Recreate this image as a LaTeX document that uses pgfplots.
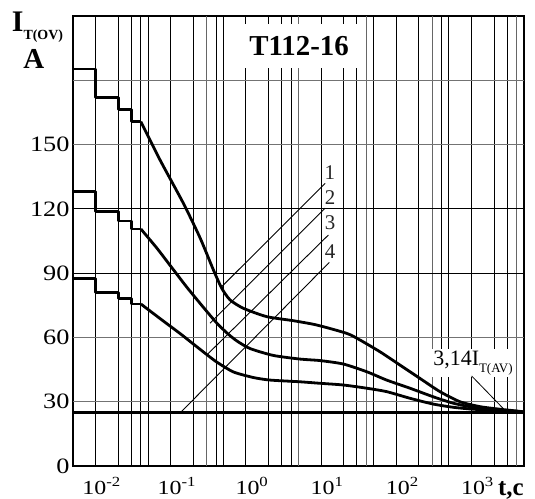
\documentclass[border=0pt]{standalone}
\usepackage{fontspec}
\setmainfont{Liberation Serif}
\newfontfamily\tickfont[FakeStretch=1.2]{Liberation Serif}
\usepackage{pgfplots}
\pgfplotsset{compat=1.18}

\begin{document}
\begin{tikzpicture}
\begin{axis}[
  xmode=log, log basis x=10,
  xmin=0.005, xmax=5000, ymin=0, ymax=210,
  width=451bp, height=450bp, scale only axis,
  axis line style={line width=1.8bp},
  clip=false,
  xtick={0.01,0.1,1,10,100,1000},
  xticklabels={10\textsuperscript{-2},10\textsuperscript{-1},10\textsuperscript{0},10\textsuperscript{1},10\textsuperscript{2},10\textsuperscript{3}},
  minor xtick={},
  ytick={0,30,60,90,120,150},
  yticklabels={0,30,60,90,120,150},
  xmajorgrids=false, xminorgrids=false, ymajorgrids=false, yminorgrids=false,
  major tick length=0pt, minor tick length=0pt,
  xticklabel style={font={\tickfont\fontsize{20}{20}\selectfont}, anchor=north, xshift=6bp, yshift=-8bp},
  yticklabel style={font={\tickfont\fontsize{22}{22}\selectfont}},
]
% vertical grid lines
\pgfplotsinvokeforeach{0.01,0.02,0.04,0.05,0.1,0.2,0.4,0.5,1,2,3,4,10,20,30,50,100,200,400,500,1000,2000,3000}{
  \draw[black, line width=1bp] (axis cs:#1,0) -- (axis cs:#1,210);
}
\pgfplotsinvokeforeach{0.3,5,40,300,4000}{
  \draw[black!60, line width=1bp] (axis cs:#1,0) -- (axis cs:#1,210);
}
\draw[black, line width=1.7bp] (axis cs:0.03,0) -- (axis cs:0.03,210);
% horizontal grid lines
\draw[black!55, line width=1bp] (axis cs:0.005,30) -- (axis cs:5000,30);
\draw[black!55, line width=1bp] (axis cs:0.005,60) -- (axis cs:5000,60);
\draw[black, line width=1bp] (axis cs:0.005,90) -- (axis cs:5000,90);
\draw[black, line width=1bp] (axis cs:0.005,120) -- (axis cs:5000,120);
\draw[black!55, line width=1bp] (axis cs:0.005,150) -- (axis cs:5000,150);
\draw[black!55, line width=1bp] (axis cs:0.005,180) -- (axis cs:5000,180);

% title box
\node[fill=white, inner sep=0pt, minimum width=118bp, minimum height=44bp,
      font={\bfseries\fontsize{29}{29}\selectfont}] at (axis cs:5.08,196) {T112-16};

% 3.14 I_T(AV) label
\node[anchor=base west, fill=white, inner sep=1.5bp, font={\fontsize{22}{22}\selectfont}]
  at (axis cs:296,47.1) {3,14I\raisebox{-7.5bp}{\fontsize{13}{13}\selectfont T(AV)}};
\draw[line width=0.8bp] (axis cs:1007,42) -- (axis cs:2650,26.8);

% 25 A level
\addplot[black, line width=2.8bp] coordinates {(0.005,25) (5000,25)};

% top curve
\addplot[black, line width=2.8bp, line join=round] coordinates {
(0.005,185.3) (0.01,185.3) (0.01,172) (0.02,172) (0.02,166.5) (0.03,166.5) (0.03,160.7) (0.04,160.7)};
\addplot[black, line width=2.8bp, smooth, tension=0.4] coordinates {
(0.04,160.7) (0.072,142.8) (0.147,122.6) (0.245,106.5) (0.369,91.5) (0.477,82.9) (0.615,77.5) (0.923,73.6) (1.89,69.7) (4.27,67.8) (8.73,65.8) (21.9,61.9) (32.9,58.8) (60.7,53.3) (112,47.1) (206,40.9) (381,34.7) (703,30.0) (1297,27.7) (2393,26.5) (4416,25.5) (5000,25.2)};

% middle curve
\addplot[black, line width=2.8bp, line join=round] coordinates {
(0.005,128) (0.01,128) (0.01,118.7) (0.02,118.7) (0.02,114.3) (0.03,114.3) (0.03,110.6) (0.04,110.6)};
\addplot[black, line width=2.8bp, smooth, tension=0.4] coordinates {
(0.04,110.6) (0.0652,101.7) (0.098,93.6) (0.163,83.5) (0.272,74.0) (0.409,66.7) (0.578,61.6) (0.762,58.3) (1.135,54.8) (2.31,51.6) (5.23,49.9) (9.64,49.2) (19.7,47.6) (40.4,44.0) (74.4,40.1) (152,36.3) (310,32.3) (573,29.3) (1057,27.4) (2393,26.1) (4416,25.4) (5000,25.2)};

% bottom curve
\addplot[black, line width=2.8bp, line join=round] coordinates {
(0.005,87.6) (0.01,87.6) (0.01,80.9) (0.02,80.9) (0.02,78.1) (0.03,78.1) (0.03,75.6) (0.04,75.6)};
\addplot[black, line width=2.8bp, smooth, tension=0.4] coordinates {
(0.04,75.6) (0.072,68.8) (0.133,61.8) (0.2,56.9) (0.301,52.0) (0.409,48.5) (0.68,43.9) (1.25,41.3) (2.09,40.1) (5.23,39.3) (9.64,38.6) (19.7,37.8) (40.4,36.3) (74.4,34.7) (152,31.6) (310,28.9) (573,27.4) (1057,26.5) (2393,25.8) (5000,25.2)};

% diagonal lines 1-4
\addplot[black, line width=0.9bp] coordinates {(0.476,83.7) (11.3,131.9)};
\addplot[black, line width=0.9bp] coordinates {(0.333,66.6) (11.3,120.3)};
\addplot[black, line width=0.9bp] coordinates {(0.301,51.8) (12.5,107.8)};
\addplot[black, line width=0.9bp] coordinates {(0.135,25) (12.85,95)};

\node[font={\fontsize{21}{21}\selectfont}, text=black!85] at (axis cs:13.1,137) {1};
\node[font={\fontsize{21}{21}\selectfont}, text=black!85] at (axis cs:13.2,125.1) {2};
\node[font={\fontsize{21}{21}\selectfont}, text=black!85] at (axis cs:13.2,113.6) {3};
\node[font={\fontsize{21}{21}\selectfont}, text=black!85] at (axis cs:13.2,100) {4};

% axis labels
\node[anchor=base west, inner sep=0pt, font={\bfseries\fontsize{30}{30}\selectfont}]
  at ([xshift=-61.3bp,yshift=434.3bp]rel axis cs:0,0) {I\raisebox{-7.5bp}{\fontsize{14}{14}\selectfont T(OV)}};
\node[anchor=base west, inner sep=0pt, font={\bfseries\fontsize{29}{29}\selectfont}]
  at ([xshift=-49.7bp,yshift=397.7bp]rel axis cs:0,0) {A};
\node[anchor=base west, inner sep=0pt, font={\bfseries\fontsize{25}{25}\selectfont}]
  at ([xshift=425bp,yshift=-29bp]rel axis cs:0,0) {t,c};

% page extent
\path ([xshift=-73bp,yshift=-33bp]rel axis cs:0,0) rectangle ([xshift=462bp,yshift=466bp]rel axis cs:0,0);
\end{axis}
\end{tikzpicture}
\end{document}
